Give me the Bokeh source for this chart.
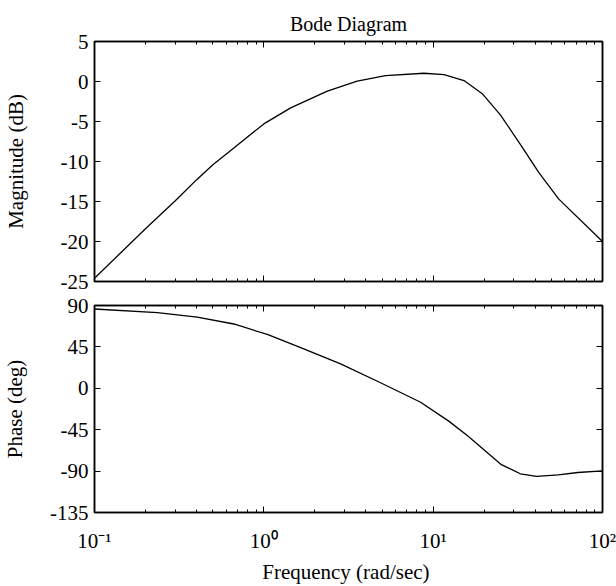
from bokeh.plotting import figure
from bokeh.models import (Range1d, LogAxis, LinearAxis, FixedTicker,
                          CustomJSTickFormatter, LogScale)
from bokeh.layouts import column
from bokeh.embed import file_html
from bokeh.resources import INLINE

# ---- data ----
mag_freq = [0.1, 0.2, 0.3, 0.4, 0.5, 0.665, 1.0, 1.44, 2.37, 3.56, 5.23,
            8.81, 11.6, 15.2, 19.5, 25.0, 32.8, 42.1, 55.2, 100.0]
mag_db = [-24.6, -18.4, -14.9, -12.3, -10.4, -8.3, -5.3, -3.3, -1.2, 0.04,
          0.74, 1.03, 0.86, 0.12, -1.52, -4.2, -7.9, -11.4, -14.7, -20.0]

ph_freq = [0.1, 0.235, 0.404, 0.665, 1.048, 1.65, 2.84, 4.89, 8.43, 12.3,
           15.9, 25.1, 32.7, 40.8, 54.8, 71.5, 100.0]
ph_deg = [86.2, 82.2, 77.3, 69.9, 58.5, 44.3, 26.6, 6.0, -15.2, -35.4,
          -51.4, -82.6, -92.9, -95.7, -94.0, -91.5, -89.7]

x_major = [0.1, 1, 10, 100]
mag_ticks = [-25, -20, -15, -10, -5, 0, 5]
ph_ticks = [-135, -90, -45, 0, 45, 90]

title_text = "Bode Diagram"
mag_label = "Magnitude (dB)"
ph_label = "Phase (deg)"
x_label = "Frequency  (rad/sec)"

FONT = "Liberation Serif"
FS = "21px"

x_minor = []
for d in x_major[:-1]:
    for m in range(2, 10):
        x_minor.append(d * m)

sup_fmt = CustomJSTickFormatter(code="""
const sup = {"-":"\u207b","0":"\u2070","1":"\u00b9","2":"\u00b2","3":"\u00b3",
             "4":"\u2074","5":"\u2075","6":"\u2076","7":"\u2077","8":"\u2078","9":"\u2079"};
const e = Math.round(Math.log10(tick));
return "10" + String(e).split("").map(c => sup[c]).join("");
""")
int_fmt = CustomJSTickFormatter(code="return tick.toFixed(0);")
blank_fmt = CustomJSTickFormatter(code="return '';")

x_range = Range1d(x_major[0], x_major[-1])


def style_axis(ax, labels=True):
    ax.axis_line_color = "black"
    ax.axis_line_width = 1.5
    ax.major_tick_in = 6
    ax.major_tick_out = 0
    ax.minor_tick_in = 3
    ax.minor_tick_out = 0
    ax.major_tick_line_color = "black"
    ax.minor_tick_line_color = "black"
    ax.major_label_text_font = FONT
    ax.major_label_text_font_size = FS
    ax.major_label_text_color = "black"
    ax.axis_label_text_font = FONT
    ax.axis_label_text_font_size = FS
    ax.axis_label_text_font_style = "normal"
    ax.axis_label_text_color = "black"
    if not labels:
        ax.formatter = blank_fmt
        ax.major_label_standoff = 0
        ax.major_label_text_font_size = "1px"


def make_fig(height, yr, yticks, border_top, border_bottom, x_labels):
    p = figure(width=616, height=height, x_axis_type=None, y_axis_type=None,
               x_range=x_range, y_range=yr, x_axis_location=None,
               y_axis_location=None, output_backend="svg",
               toolbar_location=None,
               min_border_left=94, min_border_right=14,
               min_border_top=border_top, min_border_bottom=border_bottom)
    p.x_scale = LogScale()
    p.grid.visible = False
    p.outline_line_color = "black"
    p.outline_line_width = 1.5
    p.background_fill_color = "white"
    p.border_fill_color = "white"
    xt = FixedTicker(ticks=x_major, minor_ticks=x_minor)
    yt = FixedTicker(ticks=yticks, minor_ticks=[])

    bottom = LogAxis(ticker=xt)
    style_axis(bottom, labels=x_labels)
    if x_labels:
        bottom.formatter = sup_fmt
    p.add_layout(bottom, "below")

    top = LogAxis(ticker=xt)
    style_axis(top, labels=False)
    p.add_layout(top, "above")

    left = LinearAxis(ticker=yt, formatter=int_fmt)
    style_axis(left)
    left.major_label_standoff = 6
    p.add_layout(left, "left")

    right = LinearAxis(ticker=yt)
    style_axis(right, labels=False)
    p.add_layout(right, "right")
    return p, bottom, left


p1, b1, l1 = make_fig(293, Range1d(mag_ticks[0], mag_ticks[-1]), mag_ticks,
                      41, 12, False)
p1.title.text = title_text
p1.title.text_font = FONT
p1.title.text_font_size = "20px"
p1.title.text_font_style = "normal"
p1.title.text_color = "black"
p1.title.align = "center"
p1.title.vertical_align = "top"
p1.title.standoff = 10
l1.axis_label = mag_label
l1.axis_label_standoff = 30
p1.line(mag_freq, mag_db, line_color="black", line_width=1.3)

p2, b2, l2 = make_fig(293, Range1d(ph_ticks[0], ph_ticks[-1]), ph_ticks,
                      12, 72, True)
l2.axis_label = ph_label
l2.axis_label_standoff = 20
b2.axis_label = x_label
b2.major_label_standoff = 16
b2.axis_label_standoff = 4
p2.line(ph_freq, ph_deg, line_color="black", line_width=1.3)

layout = column(p1, p2, spacing=0)
open("out.html", "w").write(file_html(layout, INLINE))
